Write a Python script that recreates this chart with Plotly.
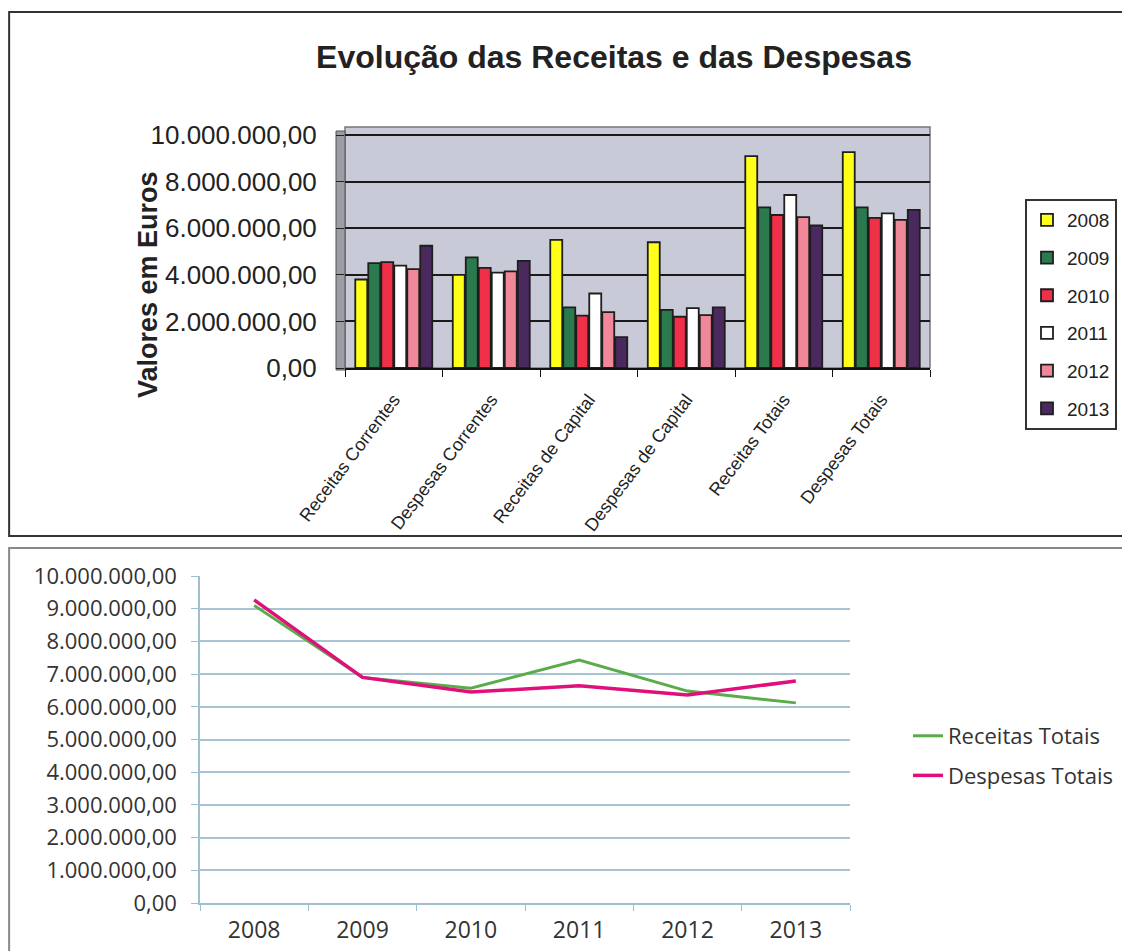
import plotly.graph_objects as go

# categorias do gráfico de barras e anos
categorias = ["Receitas Correntes", "Despesas Correntes", "Receitas de Capital",
              "Despesas de Capital", "Receitas Totais", "Despesas Totais"]
anos = ["2008", "2009", "2010", "2011", "2012", "2013"]

# valores em euros, por ano (2008..2013)
receitas_correntes = [3800000, 4500000, 4550000, 4400000, 4250000, 5250000]
despesas_correntes = [4000000, 4750000, 4300000, 4100000, 4150000, 4600000]
receitas_capital = [5500000, 2600000, 2250000, 3200000, 2400000, 1330000]
despesas_capital = [5400000, 2500000, 2200000, 2570000, 2270000, 2600000]
receitas_totais = [9100000, 6900000, 6570000, 7430000, 6480000, 6120000]
despesas_totais = [9270000, 6900000, 6450000, 6640000, 6360000, 6790000]

cores_anos = ["#ffff1a", "#2a7a4e", "#f03048", "#ffffff", "#f0889a", "#4a2a5e"]

# a página tem 8px de margem no body, por isso a figura fica 8px mais pequena
OFF = 8
W, H = 1130 - OFF, 951 - OFF

fig = go.Figure()

# ---- gráfico de barras (topo) ----
for i, ano in enumerate(anos):
    valores = [receitas_correntes[i], despesas_correntes[i], receitas_capital[i],
               despesas_capital[i], receitas_totais[i], despesas_totais[i]]
    fig.add_trace(go.Bar(
        x=categorias, y=valores, name=ano,
        marker=dict(color=cores_anos[i], line=dict(color="#1e1e1e", width=1.8)),
        xaxis="x", yaxis="y", legend="legend", legendgroup=ano,
    ))

# ---- gráfico de linhas (baixo) ----
fig.add_trace(go.Scatter(
    x=anos, y=receitas_totais, name="Receitas Totais", mode="lines",
    line=dict(color="#5aab4a", width=3),
    xaxis="x2", yaxis="y2", legend="legend2", legendgroup="rt",
))
fig.add_trace(go.Scatter(
    x=anos, y=despesas_totais, name="Despesas Totais", mode="lines",
    line=dict(color="#e0107a", width=3.5),
    xaxis="x2", yaxis="y2", legend="legend2", legendgroup="dt",
))

# converte pixels do ecrã em coordenadas "paper"
def px(x):
    return (x - OFF) / W

def py(y):
    return 1 - (y - OFF) / H

fig.update_layout(
    width=W, height=H,
    margin=dict(l=0, r=0, t=0, b=0, pad=0),
    paper_bgcolor="white", plot_bgcolor="rgba(0,0,0,0)",
    separators=",.",
    barmode="group", bargap=0.2, bargroupgap=0.08,
    title=dict(text="<b>Evolução das Receitas e das Despesas</b>",
               x=px(614), xanchor="center", y=py(57), yanchor="middle",
               font=dict(family="Arial, Liberation Sans", size=32, color="#222")),
    xaxis=dict(domain=[px(345), px(930)], tickangle=-53, automargin=False,
               tickfont=dict(family="Arial, Liberation Sans", size=18, color="#222"),
               showline=True, linecolor="#111", linewidth=2,
               ticks="outside", tickson="boundaries", ticklen=7, tickcolor="#111",
               ticklabelstandoff=12, showgrid=False, fixedrange=True),
    yaxis=dict(domain=[py(368), py(127)], range=[0, 10350000], automargin=False,
               tickvals=[0, 2000000, 4000000, 6000000, 8000000, 10000000],
               tickformat=",.2f",
               tickfont=dict(family="Arial, Liberation Sans", size=26, color="#222"),
               showgrid=True, gridcolor="#1a1a1a", gridwidth=2,
               ticks="outside", ticklen=8, tickcolor="#222", ticklabelstandoff=14,
               zeroline=False, showline=False),
    xaxis2=dict(domain=[px(200), px(850)], anchor="y2", type="category",
                range=[-0.5, 5.5], automargin=False,
                tickfont=dict(family="Open Sans", size=23, color="#333"),
                showline=True, linecolor="#9dbfcf", linewidth=1.5,
                ticks="outside", tickson="boundaries", ticklen=6, tickcolor="#9dbfcf",
                ticklabelstandoff=6, showgrid=False),
    yaxis2=dict(domain=[py(903), py(576)], anchor="x2", range=[0, 10000000],
                automargin=False, dtick=1000000, tickformat=",.2f",
                tickfont=dict(family="Open Sans", size=22, color="#333"),
                showgrid=True, gridcolor="#a6c4d2", gridwidth=1.5,
                showline=True, linecolor="#9dbfcf", linewidth=1.5,
                ticks="outside", ticklen=7, tickcolor="#9dbfcf", zeroline=False,
                ticklabelstandoff=10),
    legend=dict(x=px(1025), xanchor="left", y=py(199), yanchor="top",
                bgcolor="white", bordercolor="#333", borderwidth=2,
                font=dict(family="Arial, Liberation Sans", size=19, color="#222"),
                traceorder="grouped", tracegroupgap=10),
    legend2=dict(x=px(908), xanchor="left", y=py(756), yanchor="middle",
                 bgcolor="rgba(0,0,0,0)",
                 font=dict(family="Open Sans", size=22, color="#333"),
                 traceorder="grouped", tracegroupgap=8),
    annotations=[dict(text="<b>Valores em Euros</b>", textangle=-90,
                      x=px(148), y=py(285), xref="paper", yref="paper",
                      xanchor="center", yanchor="middle", showarrow=False,
                      font=dict(family="Arial, Liberation Sans", size=27, color="#222"))],
    shapes=[
        # fundo cinzento (parede) do gráfico de barras
        dict(type="rect", xref="paper", yref="paper", layer="below",
             x0=px(345), x1=px(930), y0=py(368), y1=py(127),
             fillcolor="#c8cad7", line=dict(color="#777", width=1.5)),
        # parede lateral
        dict(type="rect", xref="paper", yref="paper", layer="below",
             x0=px(336), x1=px(345), y0=py(370), y1=py(131),
             fillcolor="#9c9ca4", line=dict(color="#555", width=1)),
        # molduras dos dois gráficos
        dict(type="rect", xref="paper", yref="paper",
             x0=px(8) + 0.001, x1=1.01, y0=py(536), y1=py(12),
             line=dict(color="#333", width=2)),
        dict(type="rect", xref="paper", yref="paper",
             x0=px(8) + 0.001, x1=1.01, y0=-0.01, y1=py(548),
             line=dict(color="#888", width=2)),
    ],
)

fig.write_html("out.html")
